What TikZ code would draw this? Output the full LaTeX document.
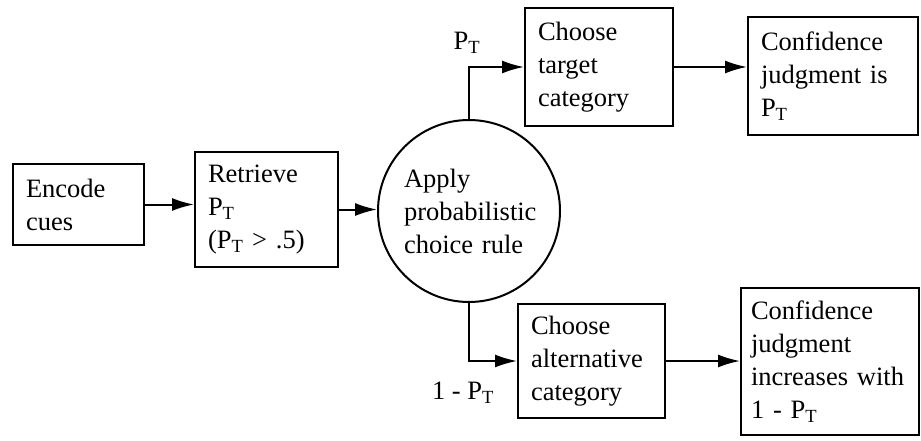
\documentclass[tikz,border=0pt]{standalone}
\usepackage{fontspec}
\setmainfont{Liberation Serif}
\usetikzlibrary{arrows.meta,calc}
\newcommand{\ArrTip}{Latex[length=22pt,width=13pt]}
\newcommand{\PT}{P\textsubscript{T}}
\tikzset{box/.style={draw,line width=2pt,align=left,inner xsep=13pt,inner ysep=0pt,font=\fontsize{26.5}{33}\selectfont}}
\tikzset{arr/.style={line width=2pt,-{\ArrTip}}}
\begin{document}
\begin{tikzpicture}[x=1pt,y=-1pt]
\useasboundingbox (0,0) rectangle (921,441);
\node[box,text width=105,minimum height=81](encode)at(78.5,204.5){Encode\\cues};
\node[box,text width=117,minimum height=115](retrieve)at(266.5,209.5){Retrieve\\\PT\\(\PT\ > .5)};
\node[box,circle,text width=130,minimum size=182,inner sep=0pt](apply)at(469,211){Apply\\probabilistic\\choice rule};
\node[box,text width=122,minimum height=118](target)at(599,67){Choose\\target\\category};
\node[box,text width=144,minimum height=118](conftarget)at(833,76){Confidence\\judgment is\\\PT};
\node[box,text width=121,minimum height=114](alternative)at(591.5,361){Choose\\alternative\\category};
\node[box,text width=158,inner xsep=10pt,minimum height=147](confalt)at(830,361.5){Confidence\\judgment\\increases with\\1 - \PT};
\begin{scope}[font=\fontsize{26.5}{33}\selectfont]
\node(ptlabel)at(467,43){\PT};\node(altlabel)at(463,393){1 - \PT};
\end{scope}
\draw[arr](encode.east)--(encode.east-|retrieve.west);
\draw[arr](retrieve.east)--(retrieve.east-|apply.west);
\draw[arr](apply.north)|-(target.west);
\draw[arr](apply.south)|-(alternative.west);
\draw[arr](target.east)--(target.east-|conftarget.west);
\draw[arr](alternative.east)--(alternative.east-|confalt.west);
\end{tikzpicture}
\end{document}
